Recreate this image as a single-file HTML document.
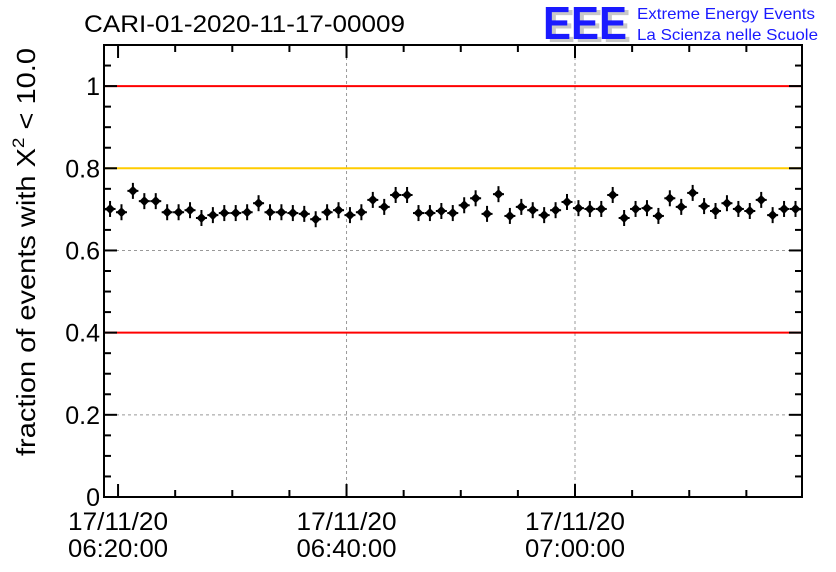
<!DOCTYPE html>
<html><head><meta charset="utf-8"><style>
body{margin:0;background:#fff;}
svg{display:block;font-family:"Liberation Sans",sans-serif;}
</style></head><body>
<svg id="chart" width="836" height="572" viewBox="0 0 836 572">
<rect width="836" height="572" fill="#fff"/>
<text x="84" y="32" font-size="24" fill="#000" textLength="321" lengthAdjust="spacingAndGlyphs">CARI-01-2020-11-17-00009</text>
<g>
<text x="547" y="42" font-size="46" font-weight="bold" fill="#c8c8c8" textLength="84" lengthAdjust="spacingAndGlyphs">EEE</text>
<text x="543" y="39" font-size="46" font-weight="bold" fill="#1a1aff" textLength="84" lengthAdjust="spacingAndGlyphs">EEE</text>
<text x="637" y="19" font-size="16" fill="#1a1aff" textLength="178" lengthAdjust="spacingAndGlyphs">Extreme Energy Events</text>
<text x="637" y="40" font-size="16" fill="#1a1aff" textLength="181" lengthAdjust="spacingAndGlyphs">La Scienza nelle Scuole</text>
</g>
<text transform="translate(35,252) rotate(-90)" text-anchor="middle" font-size="26" fill="#000" textLength="408" lengthAdjust="spacingAndGlyphs">fraction of events with X<tspan dy="-11" font-size="17">2</tspan><tspan dy="11"> &lt; 10.0</tspan></text>
<g id="grid"></g><g id="lines"></g><g id="axes"></g><g id="marks"></g>
</svg>
<script>
const minutes = [];
for (let i = 0; i < 61; i++) minutes.push(i - 0.7);
const values = [0.701,0.693,0.745,0.720,0.720,0.693,0.693,0.698,0.679,0.686,0.691,0.691,0.693,0.715,0.693,0.693,0.691,0.689,0.676,0.693,0.698,0.686,0.693,0.723,0.706,0.735,0.735,0.691,0.691,0.696,0.691,0.710,0.727,0.689,0.737,0.684,0.706,0.698,0.686,0.698,0.718,0.703,0.701,0.701,0.735,0.679,0.701,0.703,0.684,0.727,0.706,0.740,0.708,0.696,0.715,0.701,0.696,0.723,0.686,0.701,0.701];
const yTicks = [0,0.2,0.4,0.6,0.8,1];
const yTickLabels = ["0","0.2","0.4","0.6","0.8","1"];
const xTicks = [0,20,40];
const xTickDates = ["17/11/20","17/11/20","17/11/20"];
const xTickTimes = ["06:20:00","06:40:00","07:00:00"];
const refLines = [{v:1,c:"#ff0000"},{v:0.8,c:"#ffcc00"},{v:0.4,c:"#ff0000"}];

const L=104,R=802,T=45,B=497;
const xmin=-1.23,xmax=59.87,ymin=0,ymax=1.1;
const X=m=>L+(m-xmin)/(xmax-xmin)*(R-L);
const Y=v=>B-(v-ymin)/(ymax-ymin)*(B-T);
const NS="http://www.w3.org/2000/svg";
function mk(tag,attrs,parent){const e=document.createElementNS(NS,tag);for(const k in attrs)e.setAttribute(k,attrs[k]);parent.appendChild(e);return e;}
const grid=document.getElementById('grid'),lines=document.getElementById('lines'),axes=document.getElementById('axes'),marks=document.getElementById('marks');

yTicks.forEach((v,i)=>{
  if(v>0&&v<1){const g=mk('line',{x1:L,x2:R,y1:Y(v),y2:Y(v),stroke:'#999','stroke-dasharray':'3,3','stroke-width':1},grid);
  
  }
  const t=mk('text',{x:L-4,y:Y(v)+9,'text-anchor':'end','font-size':25},axes);
  t.textContent=yTickLabels[i];
  
  
});
xTicks.forEach((m,i)=>{
  if(i>0){const g=mk('line',{x1:X(m),x2:X(m),y1:T,y2:B,stroke:'#999','stroke-dasharray':'3,3','stroke-width':1},grid);
  
  }
  const t=mk('text',{x:X(m),y:530,'text-anchor':'middle','font-size':25,textLength:100,lengthAdjust:'spacingAndGlyphs'},axes);
  t.textContent=xTickDates[i];
  
  
  const t2=mk('text',{x:X(m),y:557,'text-anchor':'middle','font-size':25,textLength:100,lengthAdjust:'spacingAndGlyphs'},axes);
  t2.textContent=xTickTimes[i];
  
  
});
refLines.forEach(r=>{
  const l=mk('line',{x1:L,x2:R,y1:Y(r.v),y2:Y(r.v),stroke:r.c,'stroke-width':2},lines);
  
  
});
const fr=mk('rect',{x:L,y:T,width:R-L,height:B-T,fill:'none',stroke:'#000','stroke-width':2},axes);


for(let v=0;v<=1.1001;v+=0.05){
  const major=Math.abs(v/0.2-Math.round(v/0.2))<1e-6;const len=major?13:7;
  mk('line',{x1:L,x2:L+len,y1:Y(v),y2:Y(v),stroke:'#000','stroke-width':2},axes);
  mk('line',{x1:R,x2:R-len,y1:Y(v),y2:Y(v),stroke:'#000','stroke-width':2},axes);
}
for(let m=0;m<=xmax;m+=5){
  const major=m%20===0;const len=major?13:7;
  mk('line',{x1:X(m),x2:X(m),y1:B,y2:B-len,stroke:'#000','stroke-width':2},axes);
  mk('line',{x1:X(m),x2:X(m),y1:T,y2:T+len,stroke:'#000','stroke-width':2},axes);
}
minutes.forEach((m,i)=>{
  const cx=X(m),cy=Y(values[i]);
  const g=mk('g',{},marks);
  
  
  mk('line',{x1:cx-5.5,x2:cx+5.5,y1:cy,y2:cy,stroke:'#000','stroke-width':2},g);
  mk('line',{x1:cx,x2:cx,y1:cy-8,y2:cy+8,stroke:'#000','stroke-width':2},g);
  mk('path',{d:`M${cx-5},${cy}L${cx},${cy-5}L${cx+5},${cy}L${cx},${cy+5}Z`,fill:'#000'},g);
});
</script>
</body></html>
